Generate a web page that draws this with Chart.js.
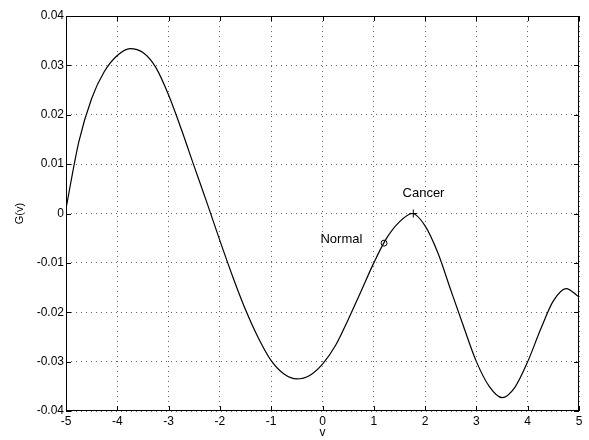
<!DOCTYPE html>
<html>
<head>
<meta charset="utf-8">
<script src="https://cdn.jsdelivr.net/npm/chart.js@4/dist/chart.umd.min.js"></script>
<style>
  html, body { margin: 0; padding: 0; background: #fff; }
  #wrap { width: 589px; height: 440px; }
</style>
</head>
<body>
<div id="wrap"><canvas id="gChart"></canvas></div>
<script>
// curve G(v)
const vValues = [-5, -4.75, -4.5, -4.25, -4, -3.75, -3.5, -3.25, -3, -2.75, -2.5, -2.25, -2, -1.75, -1.5, -1.25, -1, -0.75, -0.5, -0.25,
  0, 0.25, 0.5, 0.75, 1, 1.25, 1.5, 1.75, 2, 2.25, 2.5, 2.75, 3, 3.25, 3.5, 3.75, 4, 4.25, 4.5, 4.75, 5];
const gValues = [0.0010, 0.0145, 0.0233, 0.0288, 0.0320, 0.0334, 0.0326, 0.0296, 0.0240, 0.0170, 0.0095, 0.0021, -0.0055, -0.0128, -0.0195, -0.0252, -0.0298, -0.0325, -0.0335, -0.0328,
  -0.0305, -0.0268, -0.0215, -0.0158, -0.0100, -0.0050, -0.0017, 0.0000, -0.0025, -0.0080, -0.0155, -0.0229, -0.0300, -0.0350, -0.0373, -0.0352, -0.0300, -0.0235, -0.0177, -0.0152, -0.0169];

const xTicks = [-5, -4, -3, -2, -1, 0, 1, 2, 3, 4, 5];
const xTickLabels = ['-5', '-4', '-3', '-2', '-1', '0', '1', '2', '3', '4', '5'];
const yTicks = [-0.04, -0.03, -0.02, -0.01, 0, 0.01, 0.02, 0.03, 0.04];
const yTickLabels = ['-0.04', '-0.03', '-0.02', '-0.01', '0', '0.01', '0.02', '0.03', '0.04'];

const markedNames = ['Normal', 'Cancer'];
const markedV = [1.2, 1.77];
const markedG = [-0.0060, 0.0000];
// where the two names sit (data units, left edge / middle)
const nameV = [-0.04, 1.56];
const nameG = [-0.0052, 0.0040];

const FONT = '"Liberation Sans", Arial, Helvetica, sans-serif';

const framePlugin = {
  id: 'frame',
  afterDatasetsDraw(chart) {
    const { ctx, chartArea: a, scales: { x, y } } = chart;
    ctx.save();
    ctx.strokeStyle = '#000';
    ctx.lineWidth = 1;
    ctx.strokeRect(a.left + 0.5, a.top + 0.5, a.right - a.left - 1, a.bottom - a.top - 1);
    ctx.beginPath();
    xTicks.forEach(v => {
      const px = Math.round(x.getPixelForValue(v)) + 0.5;
      ctx.moveTo(px, a.bottom); ctx.lineTo(px, a.bottom - 5);
      ctx.moveTo(px, a.top); ctx.lineTo(px, a.top + 5);
    });
    yTicks.forEach(v => {
      const py = Math.round(y.getPixelForValue(v)) + 0.5;
      ctx.moveTo(a.left, py); ctx.lineTo(a.left + 5, py);
      ctx.moveTo(a.right, py); ctx.lineTo(a.right - 5, py);
    });
    ctx.stroke();
    ctx.fillStyle = '#000';
    ctx.font = '13px ' + FONT;
    ctx.textBaseline = 'middle';
    ctx.textAlign = 'left';
    markedNames.forEach((name, i) => {
      ctx.fillText(name, x.getPixelForValue(nameV[i]), y.getPixelForValue(nameG[i]));
    });
    ctx.restore();
  }
};

new Chart(document.getElementById('gChart'), {
  type: 'scatter',
  data: {
    datasets: [{
      type: 'line',
      data: vValues.map((v, i) => ({ x: v, y: gValues[i] })),
      borderColor: '#000',
      borderWidth: 1.2,
      pointRadius: 0,
      cubicInterpolationMode: 'monotone',
      fill: false
    }, {
      data: [{ x: markedV[0], y: markedG[0] }],
      pointStyle: 'circle',
      pointRadius: 3,
      borderColor: '#000',
      borderWidth: 1,
      backgroundColor: 'rgba(0,0,0,0)'
    }, {
      data: [{ x: markedV[1], y: markedG[1] }],
      pointStyle: 'cross',
      pointRadius: 4,
      borderColor: '#000',
      borderWidth: 1
    }]
  },
  options: {
    responsive: true,
    maintainAspectRatio: false,
    animation: false,
    layout: { padding: { left: 0, right: 10, top: 16, bottom: 0 } },
    plugins: {
      legend: { display: false },
      tooltip: { enabled: false }
    },
    scales: {
      x: {
        type: 'linear',
        min: -5,
        max: 5,
        afterBuildTicks: s => { s.ticks = xTicks.map(v => ({ value: v })); },
        afterFit: s => { s.height = 29; },
        border: { display: false, dash: [1, 4] },
        grid: { color: '#666', drawTicks: false },
        ticks: {
          padding: 3,
          color: '#000',
          font: { family: FONT, size: 12 },
          callback: (value, index) => xTickLabels[index]
        },
        title: {
          display: true,
          text: 'v',
          color: '#000',
          font: { family: FONT, size: 12 },
          padding: { top: 0, bottom: 0 }
        }
      },
      y: {
        type: 'linear',
        min: -0.04,
        max: 0.04,
        afterBuildTicks: s => { s.ticks = yTicks.map(v => ({ value: v })); },
        afterFit: s => { s.width = 66; },
        border: { display: false, dash: [1, 4] },
        grid: { color: '#666', drawTicks: false },
        ticks: {
          padding: 2,
          color: '#000',
          font: { family: FONT, size: 12 },
          callback: (value, index) => yTickLabels[index]
        },
        title: {
          display: true,
          text: 'G(v)',
          color: '#000',
          font: { family: FONT, size: 11 },
          padding: { top: 13, bottom: 0 }
        }
      }
    }
  },
  plugins: [framePlugin]
});
</script>
</body>
</html>
